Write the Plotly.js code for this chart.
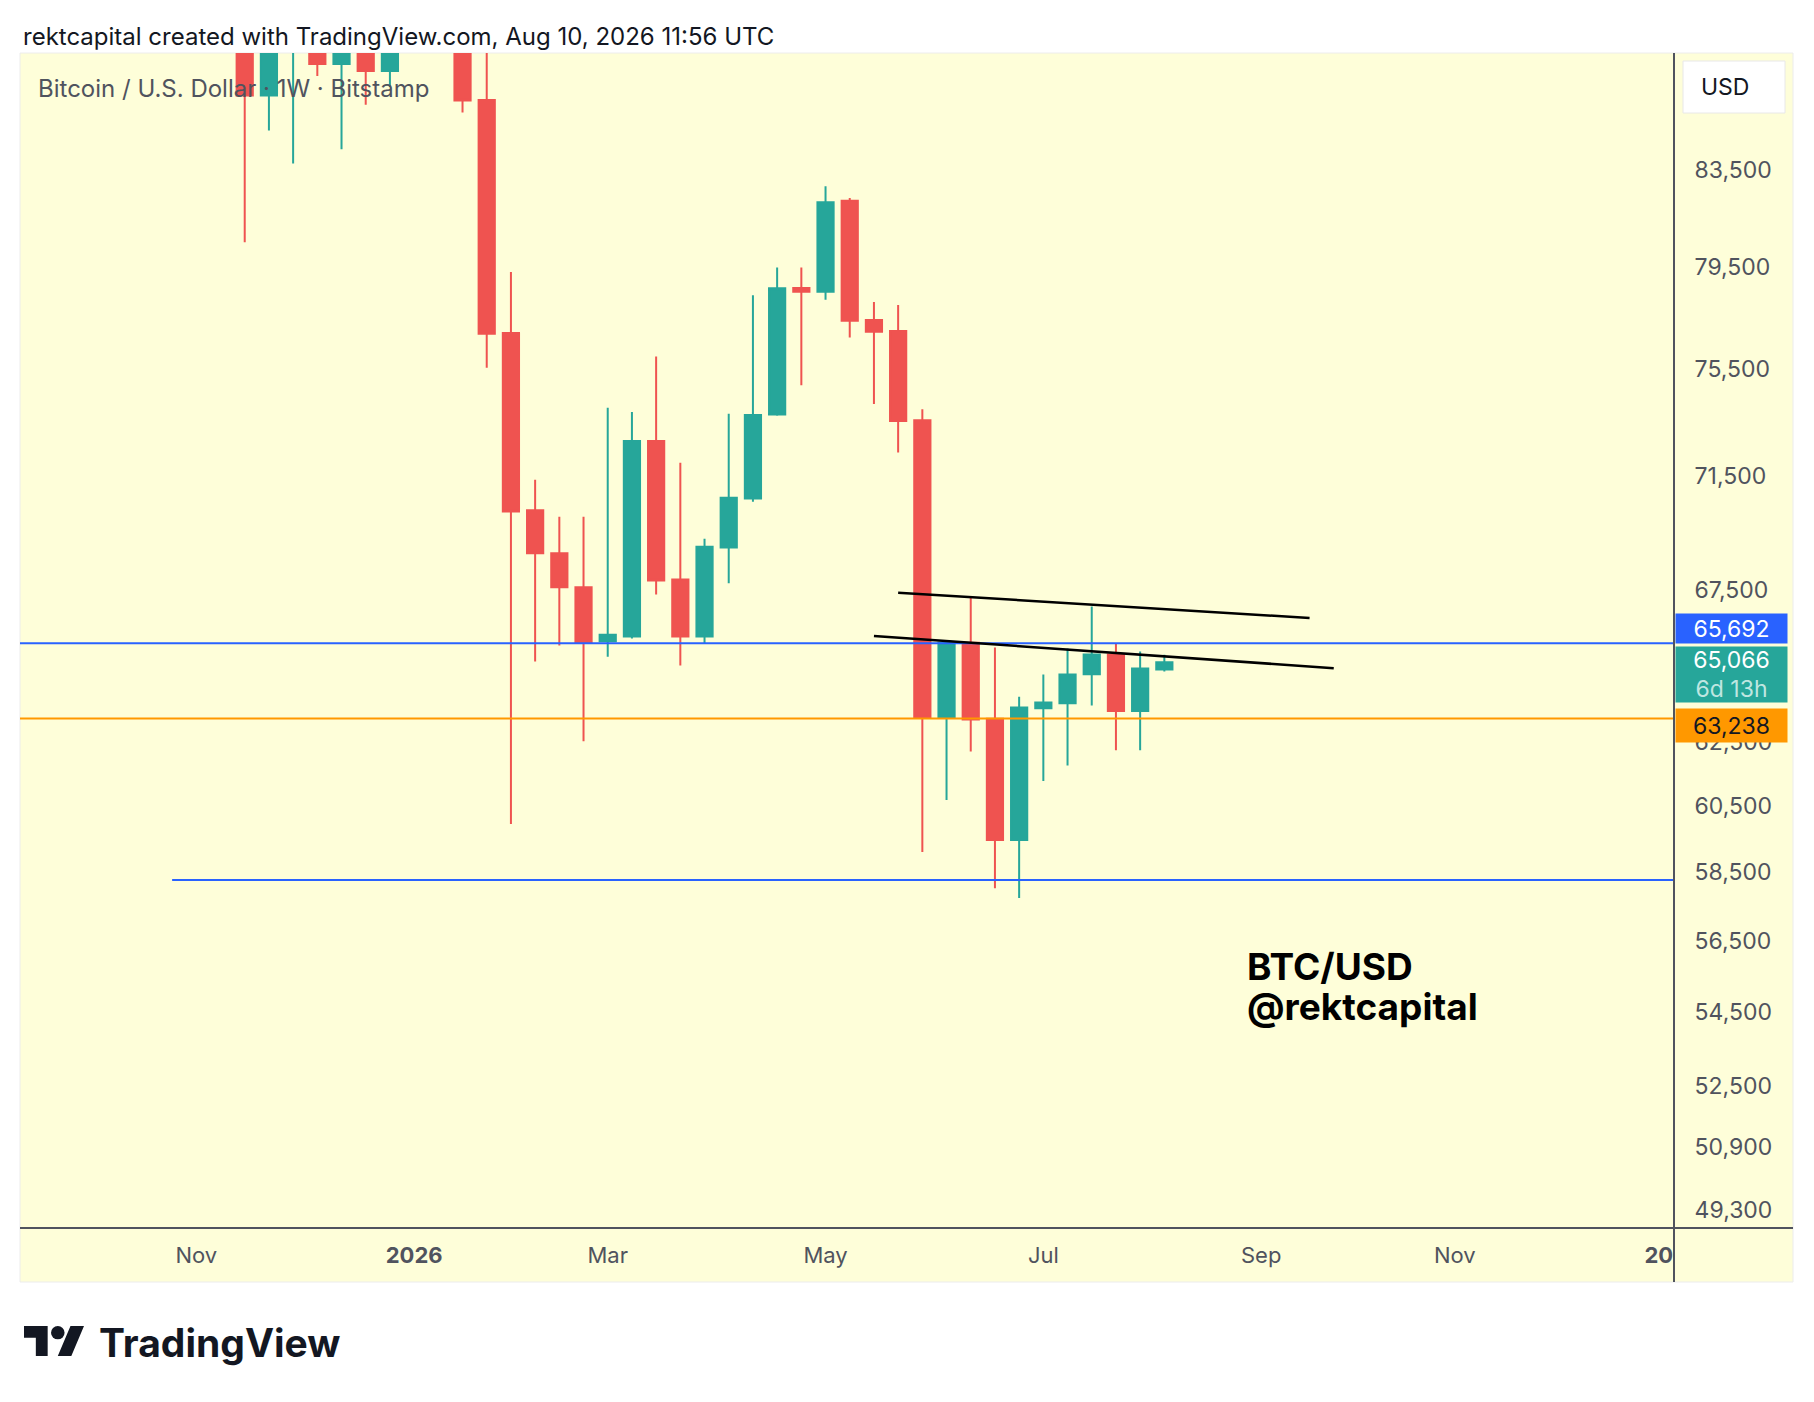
<!DOCTYPE html>
<html>
<head>
<meta charset="utf-8">
<script src="https://cdn.plot.ly/plotly-3.0.1.min.js"></script>
<style>
  html, body { margin: 0; padding: 0; background: #ffffff; }
  #chart { width: 1814px; height: 1402px; }
</style>
</head>
<body>
<div id="chart"></div>
<script>
// ---------------- DATA ----------------
const weeks = [
  '2025-11-17','2025-11-24','2025-12-01','2025-12-08','2025-12-15','2025-12-22','2025-12-29',
  '2026-01-05','2026-01-12','2026-01-19','2026-01-26','2026-02-02','2026-02-09','2026-02-16',
  '2026-02-23','2026-03-02','2026-03-09','2026-03-16','2026-03-23','2026-03-30','2026-04-06',
  '2026-04-13','2026-04-20','2026-04-27','2026-05-04','2026-05-11','2026-05-18','2026-05-25',
  '2026-06-01','2026-06-08','2026-06-15','2026-06-22','2026-06-29','2026-07-06','2026-07-13',
  '2026-07-20','2026-07-27','2026-08-03','2026-08-10'
];
const openP = [
  94000, 86700, 90900, 92100, 88100, 89900, 87790,
  90300, 93600, 95000, 86510, 76880, 70270, 68760,
  67590, 65760, 65920, 72780, 67850, 65920, 68960,
  70690, 73770, 78650, 78500, 82200, 77380, 76950,
  73550, 63280, 65710, 63230, 59460, 63570, 63730,
  64670, 65320, 63480, 64830
];
const highP = [
  95300, 91800, 93300, 94500, 90500, 90600, 91000,
  94800, 97800, 95500, 89500, 79290, 71370, 70040,
  70040, 74020, 73860, 75970, 71990, 69270, 73790,
  78360, 79470, 79470, 82810, 82320, 78090, 77970,
  73960, 65750, 67240, 65550, 63940, 64660, 65520,
  66930, 65700, 65420, 65310
];
const lowP = [
  80490, 85180, 83770, 87560, 84370, 86300, 87080,
  89300, 92000, 85960, 75530, 59950, 65090, 65620,
  62510, 65250, 65850, 67340, 64960, 65690, 67720,
  70580, 73720, 74870, 78180, 76700, 74160, 72360,
  59100, 60680, 62190, 58030, 57740, 61270, 61750,
  63660, 62230, 62230, 64760
];
const closeP = [
  86700, 90900, 92100, 88100, 89900, 87790, 90300,
  93600, 95000, 86480, 76850, 70230, 68760, 67590,
  65720, 65980, 72780, 67820, 65920, 68990, 70720,
  73750, 78640, 78500, 82140, 77350, 76920, 73520,
  63280, 65710, 63210, 59460, 63590, 63750, 64660,
  65320, 63480, 64860, 65066
];

const yTickVals = [83500, 79500, 75500, 71500, 67500, 62500, 60500, 58500, 56500, 54500, 52500, 50900, 49300];
const xTickVals = ['2025-11-03','2026-01-05','2026-03-02','2026-05-04','2026-07-06','2026-09-07','2026-11-02','2026-12-31'];
const xTickText = ['Nov','<b>2026</b>','Mar','May','Jul','Sep','Nov','<b>20</b>'];

const resistanceLevel = 65692;
const supportLevel = 63238;
const lowerSupportLevel = 58270;
const upperTrend = {x: ['2026-05-25','2026-09-21'], y: [67400, 66540]};
const lowerTrend = {x: ['2026-05-18','2026-09-28'], y: [65940, 64870]};
const lowerSupportStart = '2025-10-27';
const remainingText = '6d 13h';

// ---------------- LAYOUT CONSTANTS ----------------
const W = 1814, H = 1402;
const PL = 20, PR = 1674, PT = 53, PB = 1228;
const CHART_R = 1793, CHART_B = 1282;
const X_END = '2027-01-04 10:00';
const px = v => (v - PL) / (PR - PL);
const py = v => (PB - v) / (PB - PT);
const FONT = 'Inter, "Noto Sans", sans-serif';
const GREEN = '#26a69a', RED = '#ef5350';
const fmt = v => v.toLocaleString('en-US');
const L = Math.log10;

const trace = {
  type: 'candlestick',
  x: weeks, open: openP, high: highP, low: lowP, close: closeP,
  increasing: {line: {color: GREEN, width: 2}, fillcolor: GREEN},
  decreasing: {line: {color: RED, width: 2}, fillcolor: RED},
  whiskerwidth: 0,
  hoverinfo: 'skip',
  showlegend: false
};

const lastClose = closeP[closeP.length - 1];

const logoSvg = '<svg xmlns="http://www.w3.org/2000/svg" viewBox="0 4 35.5 18" preserveAspectRatio="none">' +
  '<path fill="#131722" d="M14 22H7V11H0V4h14v18zM28 22h-8l7.5-18h8L28 22z"/>' +
  '<circle fill="#131722" cx="20" cy="8" r="4"/></svg>';

const layout = {
  width: W, height: H,
  margin: {l: PL, r: W - PR, t: PT, b: H - PB, pad: 0},
  paper_bgcolor: '#ffffff',
  plot_bgcolor: 'rgba(0,0,0,0)',
  showlegend: false,
  boxgap: 0.33, boxgroupgap: 0,
  font: {family: FONT, color: '#50535e'},
  xaxis: {
    type: 'date',
    range: ['2025-09-13', X_END],
    rangeslider: {visible: false},
    showgrid: false, zeroline: false, showline: false,
    tickmode: 'array', tickvals: xTickVals, ticktext: xTickText,
    ticks: 'outside', ticklen: 8, tickcolor: 'rgba(0,0,0,0)',
    tickfont: {family: FONT, size: 22, color: '#50535e'},
    fixedrange: true
  },
  yaxis: {
    type: 'log',
    range: [4.68889, 4.94739],
    side: 'right',
    showgrid: false, zeroline: false, showline: false,
    tickmode: 'array', tickvals: yTickVals, ticktext: yTickVals.map(fmt),
    ticks: 'outside', ticklen: 15, tickcolor: 'rgba(0,0,0,0)',
    tickfont: {family: FONT, size: 23, color: '#50535e'},
    fixedrange: true
  },
  images: [{
    source: 'data:image/svg+xml;charset=utf-8,' + encodeURIComponent(logoSvg),
    xref: 'paper', yref: 'paper',
    x: px(24), y: py(1326),
    sizex: 60 / (PR - PL), sizey: 30 / (PB - PT),
    xanchor: 'left', yanchor: 'top', sizing: 'stretch', layer: 'above'
  }],
  shapes: [
    // chart background
    {type: 'rect', xref: 'paper', yref: 'paper', x0: px(20), x1: px(CHART_R), y0: py(CHART_B), y1: py(53),
     fillcolor: '#fefed9', line: {color: '#ececec', width: 1}, layer: 'below'},
    // USD box
    {type: 'rect', xref: 'paper', yref: 'paper', x0: px(1683), x1: px(1785), y0: py(113), y1: py(61),
     fillcolor: '#ffffff', line: {color: '#e8e8e8', width: 1}},
    // horizontal levels
    {type: 'line', xref: 'paper', yref: 'y', x0: 0, x1: 1, y0: resistanceLevel, y1: resistanceLevel,
     line: {color: '#2962ff', width: 2}},
    {type: 'line', xref: 'paper', yref: 'y', x0: 0, x1: 1, y0: supportLevel, y1: supportLevel,
     line: {color: '#ff9800', width: 2}},
    {type: 'line', xref: 'x', yref: 'y', x0: lowerSupportStart, x1: X_END, y0: lowerSupportLevel, y1: lowerSupportLevel,
     line: {color: '#2962ff', width: 2}},
    // trendlines
    {type: 'line', xref: 'x', yref: 'y', x0: upperTrend.x[0], x1: upperTrend.x[1], y0: upperTrend.y[0], y1: upperTrend.y[1],
     line: {color: '#000000', width: 2.5}},
    {type: 'line', xref: 'x', yref: 'y', x0: lowerTrend.x[0], x1: lowerTrend.x[1], y0: lowerTrend.y[0], y1: lowerTrend.y[1],
     line: {color: '#000000', width: 2.5}},
    // axes lines
    {type: 'line', xref: 'paper', yref: 'paper', x0: 0, x1: px(CHART_R), y0: 0, y1: 0,
     line: {color: '#50535e', width: 2}},
    {type: 'line', xref: 'paper', yref: 'paper', x0: 1, x1: 1, y0: py(CHART_B), y1: 1,
     line: {color: '#50535e', width: 2}}
  ],
  annotations: [
    {xref: 'paper', yref: 'paper', x: px(21), y: py(36), xanchor: 'left', yanchor: 'middle', showarrow: false,
     text: 'rektcapital created with TradingView.com, Aug 10, 2026 11:56 UTC',
     font: {family: FONT, size: 24, color: '#131722'}},
    {xref: 'paper', yref: 'paper', x: px(36), y: py(89), xanchor: 'left', yanchor: 'middle', showarrow: false,
     text: 'Bitcoin / U.S. Dollar · 1W · Bitstamp',
     font: {family: FONT, size: 24, color: '#50535e'}},
    {xref: 'paper', yref: 'paper', x: px(1245), y: py(966), xanchor: 'left', yanchor: 'middle', showarrow: false,
     text: 'BTC/USD',
     font: {family: FONT, size: 37, color: '#000000', weight: 700}},
    {xref: 'paper', yref: 'paper', x: px(1245), y: py(1006), xanchor: 'left', yanchor: 'middle', showarrow: false,
     text: '@rektcapital',
     font: {family: FONT, size: 37, color: '#000000', weight: 700}},
    {xref: 'paper', yref: 'paper', x: px(97), y: py(1342), xanchor: 'left', yanchor: 'middle', showarrow: false,
     text: 'TradingView',
     font: {family: FONT, size: 39, color: '#131722', weight: 700}},
    {xref: 'paper', yref: 'paper', x: px(1699), y: py(87), xanchor: 'left', yanchor: 'middle', showarrow: false,
     text: 'USD', font: {family: FONT, size: 23, color: '#131722'}},
    // price labels
    {xref: 'paper', yref: 'y', x: px(1675), y: L(resistanceLevel), yshift: 15, xanchor: 'left', yanchor: 'middle', showarrow: false,
     text: fmt(resistanceLevel), width: 111, height: 29, borderpad: 0, align: 'center',
     bgcolor: '#2962ff', font: {family: FONT, size: 23, color: '#ffffff'}},
    {xref: 'paper', yref: 'y', x: px(1675), y: L(lastClose), yshift: -12, xanchor: 'left', yanchor: 'middle', showarrow: false,
     text: fmt(lastClose) + '<br><span style="color:#bfe6e1">' + remainingText + '</span>',
     width: 111, height: 55, borderpad: 0, align: 'center',
     bgcolor: GREEN, font: {family: FONT, size: 23, color: '#ffffff'}},
    {xref: 'paper', yref: 'y', x: px(1675), y: L(supportLevel), yshift: -7, xanchor: 'left', yanchor: 'middle', showarrow: false,
     text: fmt(supportLevel), width: 111, height: 33, borderpad: 0, align: 'center',
     bgcolor: '#ff9800', font: {family: FONT, size: 23, color: '#131722'}}
  ]
};

Plotly.newPlot('chart', [trace], layout, {staticPlot: true, displayModeBar: false});
</script>
</body>
</html>
